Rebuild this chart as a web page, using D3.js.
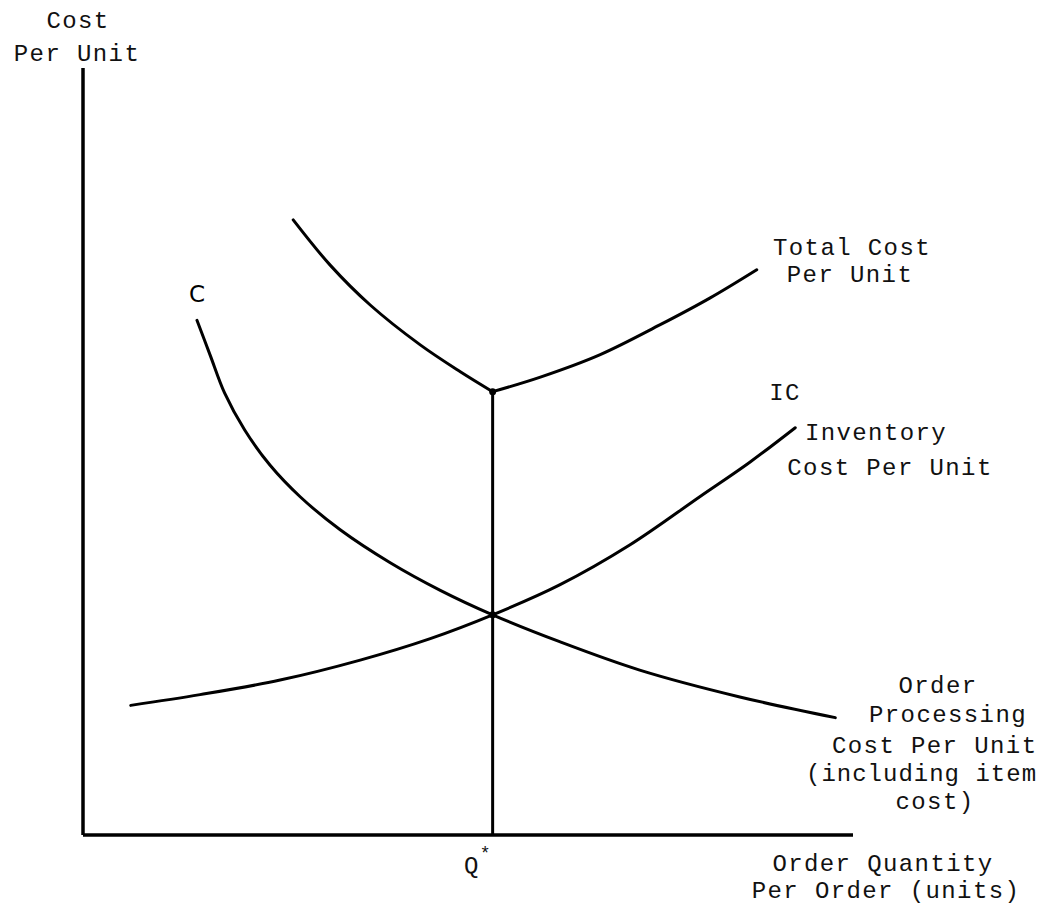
<!DOCTYPE html>
<html>
<head>
<script src="https://d3js.org/d3.v7.min.js"></script>
<style>
  body { margin: 0; background: #fff; }
  svg { display: block; }
  .lbl { font-family: 'Liberation Mono', 'Courier New', monospace; font-size: 24px; letter-spacing: 1.4px; fill: #111; }
  .curve { fill: none; stroke: #000; stroke-width: 3px; stroke-linecap: round; }
</style>
</head>
<body>
<div id="chart"></div>
<script>
// order quantity (x) and cost per unit (y), arbitrary units 0-100
const orderCostX = [14.8, 16.5, 18.4, 21.0, 24.3, 28.2, 33.4, 39.9, 46.4, 53.2, 61.9, 72.3, 85.3, 97.7];
const orderCostY = [67.1, 62.6, 57.6, 52.8, 48.2, 44.1, 39.8, 35.5, 31.9, 28.7, 25.2, 21.5, 18.0, 15.3];

const invCostX = [6.2, 15.2, 25.6, 36.0, 45.1, 53.2, 61.9, 71.0, 80.1, 86.6, 92.5];
const invCostY = [16.9, 18.3, 20.2, 22.8, 25.6, 28.7, 32.6, 37.8, 44.1, 48.6, 53.1];

const totalLeftX = [27.3, 32.1, 37.3, 43.8, 49.0, 53.2];
const totalLeftY = [80.2, 74.3, 69.1, 63.9, 60.4, 57.8];
const totalRightX = [53.2, 59.4, 67.1, 74.9, 81.4, 87.5];
const totalRightY = [57.8, 59.7, 62.6, 66.5, 70.0, 73.7];

const qStar = 53.2;
const qStarCost = 28.7;
const totalMin = 57.8;

const width = 1043, height = 909;
const x = d3.scaleLinear().domain([0, 100]).range([83, 853]);
const y = d3.scaleLinear().domain([0, 100]).range([835, 68]);

const svg = d3.select("#chart").append("svg")
    .attr("width", width)
    .attr("height", height);

// axes (no ticks)
svg.append("line")
    .attr("x1", x(0)).attr("y1", y(0)).attr("x2", x(0)).attr("y2", y(100))
    .attr("stroke", "#000").attr("stroke-width", 3.5);
svg.append("line")
    .attr("x1", x(0)).attr("y1", y(0)).attr("x2", x(100)).attr("y2", y(0))
    .attr("stroke", "#000").attr("stroke-width", 3.5);

const line = d3.line()
    .x(d => x(d[0]))
    .y(d => y(d[1]))
    .curve(d3.curveCatmullRom.alpha(0.5));

function pts(xs, ys) { return xs.map((v, i) => [v, ys[i]]); }

svg.append("path").attr("class", "curve").attr("d", line(pts(orderCostX, orderCostY)));
svg.append("path").attr("class", "curve").attr("d", line(pts(invCostX, invCostY)));
svg.append("path").attr("class", "curve").attr("d", line(pts(totalLeftX, totalLeftY)));
svg.append("path").attr("class", "curve").attr("d", line(pts(totalRightX, totalRightY)));

// Q* vertical
svg.append("line")
    .attr("x1", x(qStar)).attr("x2", x(qStar))
    .attr("y1", y(0)).attr("y2", y(totalMin))
    .attr("stroke", "#000").attr("stroke-width", 3);

svg.append("circle").attr("cx", x(qStar)).attr("cy", y(totalMin)).attr("r", 3.5);
svg.append("circle").attr("cx", x(qStar)).attr("cy", y(qStarCost)).attr("r", 3.5);

// labels
function label(txt, px, py, anchor) {
    return svg.append("text").attr("class", "lbl")
        .attr("x", px).attr("y", py)
        .attr("text-anchor", anchor || "middle")
        .text(txt);
}

label("Cost", 78, 28);
label("Per Unit", 77, 61);

label("Total Cost", 852, 255);
label("Per Unit", 850, 282);

label("IC", 785, 400);
label("Inventory", 876, 440);
label("Cost Per Unit", 890, 475);

label("Order", 938, 693);
label("Processing", 948, 722);
label("Cost Per Unit", 832, 753, "start");
label("(including item", 806, 781, "start").style("letter-spacing", "1px");
label("cost)", 935, 809);

label("Order Quantity", 883, 871);
label("Per Order (units)", 886, 898);

svg.append("text")
    .attr("x", 197).attr("y", 302)
    .attr("text-anchor", "middle")
    .style("font-family", "'DejaVu Sans', sans-serif")
    .style("font-size", "23px")
    .text("C");

const q = svg.append("text").attr("class", "lbl")
    .attr("x", 478).attr("y", 873).attr("text-anchor", "middle");
q.append("tspan").text("Q");
q.append("tspan").attr("dy", -14).style("font-size", "18px").text("*");
</script>
</body>
</html>
